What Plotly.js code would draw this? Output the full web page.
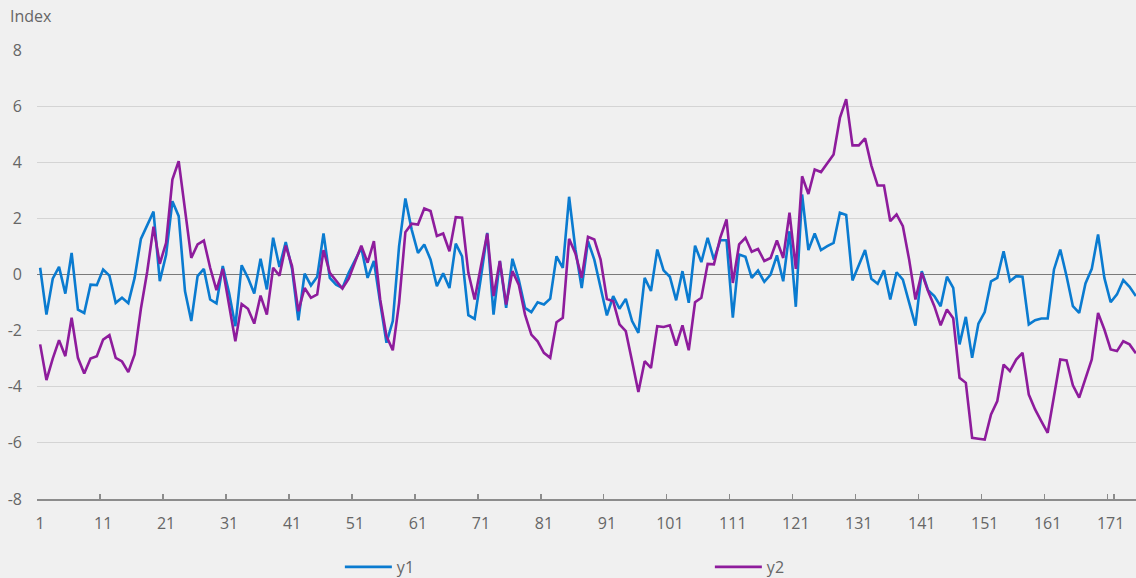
<!DOCTYPE html>
<html><head><meta charset="utf-8">
<script src="https://cdn.plot.ly/plotly-3.0.1.min.js"></script>
<style>html,body{margin:0;padding:0;background:#f0f0f0;overflow:hidden;width:1136px;height:578px}</style>
</head><body><div id="chart"></div>
<script>
const y1 = [0.24,-1.43,-0.15,0.27,-0.68,0.77,-1.25,-1.37,-0.36,-0.38,
0.18,-0.04,-1.01,-0.83,-1.02,-0.12,1.27,1.75,2.24,-0.24,
0.70,2.61,2.08,-0.59,-1.66,-0.06,0.20,-0.89,-1.03,0.30,
-0.65,-1.84,0.33,-0.12,-0.68,0.56,-0.53,1.31,0.27,1.16,
0.20,-1.63,0.03,-0.39,-0.08,1.46,-0.12,-0.36,-0.48,0.06,
0.53,0.95,-0.12,0.48,-1.01,-2.43,-1.66,1.01,2.71,1.60,
0.77,1.07,0.53,-0.42,0.04,-0.48,1.10,0.65,-1.45,-1.58,
-0.10,1.48,-1.43,0.48,-1.19,0.56,-0.18,-1.19,-1.34,-0.99,
-1.07,-0.86,0.65,0.24,2.77,0.90,-0.48,1.19,0.53,-0.42,
-1.46,-0.77,-1.22,-0.87,-1.66,-2.08,-0.12,-0.59,0.89,0.15,
-0.08,-0.92,0.12,-1.01,1.03,0.44,1.31,0.53,1.22,1.22,
-1.54,0.71,0.63,-0.12,0.14,-0.26,0.00,0.68,-0.24,1.54,
-1.15,2.85,0.87,1.46,0.87,1.01,1.13,2.20,2.12,-0.21,
0.33,0.87,-0.15,-0.33,0.15,-0.89,0.08,-0.18,-1.00,-1.82,
0.12,-0.56,-0.77,-1.13,-0.08,-0.48,-2.49,-1.51,-2.97,-1.75,
-1.34,-0.24,-0.12,0.83,-0.24,-0.06,-0.08,-1.78,-1.63,-1.57,
-1.57,0.18,0.89,-0.06,-1.13,-1.37,-0.32,0.20,1.43,-0.12,
-0.99,-0.71,-0.20,-0.44,-0.77];
const y2 = [-2.49,-3.76,-3.00,-2.34,-2.91,-1.54,-2.97,-3.53,-2.99,-2.91,
-2.32,-2.16,-2.97,-3.10,-3.48,-2.85,-1.22,0.10,1.70,0.38,
1.13,3.38,4.04,2.30,0.59,1.07,1.21,0.24,-0.56,0.20,
-1.13,-2.38,-1.05,-1.22,-1.75,-0.75,-1.43,0.24,-0.04,1.03,
0.30,-1.31,-0.48,-0.83,-0.71,0.87,0.06,-0.24,-0.50,-0.15,
0.42,1.03,0.42,1.19,-0.89,-2.20,-2.70,-1.01,1.51,1.81,
1.78,2.35,2.26,1.37,1.46,0.83,2.04,2.02,0.06,-0.89,
0.30,1.46,-0.77,0.48,-1.07,0.12,-0.36,-1.43,-2.14,-2.38,
-2.79,-2.97,-1.70,-1.54,1.27,0.75,-0.12,1.34,1.25,0.53,
-0.87,-0.95,-1.78,-2.02,-3.09,-4.19,-3.09,-3.33,-1.84,-1.87,
-1.81,-2.53,-1.81,-2.70,-0.99,-0.83,0.38,0.36,1.31,1.96,
-0.30,1.07,1.31,0.81,0.91,0.48,0.59,1.21,0.59,2.20,
0.20,3.50,2.87,3.74,3.65,3.95,4.28,5.58,6.25,4.60,
4.60,4.85,3.88,3.17,3.17,1.90,2.14,1.72,0.53,-0.89,
0.06,-0.59,-1.13,-1.81,-1.25,-1.56,-3.68,-3.86,-5.82,-5.85,
-5.88,-4.99,-4.51,-3.21,-3.44,-3.03,-2.79,-4.28,-4.81,-5.23,
-5.64,-4.34,-3.03,-3.06,-3.95,-4.39,-3.74,-3.03,-1.37,-1.96,
-2.67,-2.73,-2.38,-2.49,-2.81];
const periods = y1.map((_, i) => i + 1);
const xTickVals = [1,11,21,31,41,51,61,71,81,91,101,111,121,131,141,151,161,171];
const yTickVals = [-8,-6,-4,-2,0,2,4,6,8];
const seriesNames = ['y1','y2'];

const txt = '#666666';
const fnt = {family:'"Open Sans", "Noto Sans", sans-serif', size:16, color:txt};

const traces = [
  {x: periods, y: y1, name: seriesNames[0], type:'scatter', mode:'lines',
   line:{color:'#0a7bd0', width:2.6}},
  {x: periods, y: y2, name: seriesNames[1], type:'scatter', mode:'lines',
   line:{color:'#8e1c9c', width:2.6}}
];

const layout = {
  width:1142, height:578,
  margin:{l:37, r:2.5, t:50, b:79, pad:0, autoexpand:false},
  paper_bgcolor:'#f0f0f0', plot_bgcolor:'#f0f0f0',
  font:fnt,
  showlegend:true,
  title:{text:'Index', font:fnt, xref:'container', yref:'container',
         x:10/1142, xanchor:'left', y:1-16/578, yanchor:'middle'},
  xaxis:{type:'category', range:[-0.5, 174.5], showgrid:false, zeroline:false, automargin:false,
         showline:true, linecolor:'#8c8c8c', linewidth:1.5,
         ticks:'inside', ticklen:5, tickwidth:1.5, tickcolor:'#8c8c8c', tickson:'boundaries',
         tickmode:'array', tickvals:xTickVals, ticktext:xTickVals.map(String), tickangle:0,
         tickfont:fnt, ticklabelstandoff:9, fixedrange:true},
  yaxis:{range:[-8,8], tickmode:'array', tickvals:yTickVals, ticktext:yTickVals.map(String),
         showgrid:true, gridcolor:'#d4d4d4', gridwidth:1, automargin:false,
         zeroline:true, zerolinecolor:'#7a7a7a', zerolinewidth:1.5,
         showline:false, ticks:'', tickfont:fnt, ticklabelstandoff:14, fixedrange:true},
  legend:{orientation:'h', xref:'paper', x:(340-37)/1102.5, xanchor:'left',
          yref:'container', y:1-567/578, yanchor:'middle',
          font:fnt, itemwidth:47, entrywidth:308, bgcolor:'rgba(0,0,0,0)'}
};

Plotly.newPlot('chart', traces, layout, {displayModeBar:false, staticPlot:true});
</script>
</body></html>
